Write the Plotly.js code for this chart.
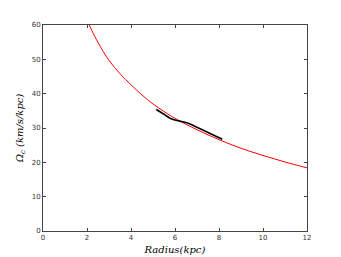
<!DOCTYPE html>
<html><head><meta charset="utf-8">
<script src="https://cdn.plot.ly/plotly-3.0.1.min.js"></script>
<style>html,body{margin:0;padding:0;background:#fff}#c{width:341px;height:257px}</style>
</head><body><div id="c"></div>
<script>
var modelR = [2.1, 2.5, 3, 3.5, 4, 4.5, 5, 5.5, 6, 7, 8, 9, 10, 11, 12];
var modelOmega = [60, 54.9, 49.7, 45.8, 42.6, 39.6, 37.0, 34.8, 32.8, 29.5, 26.6, 24.1, 22.0, 20.1, 18.4];
var obsR = [5.15, 5.5, 5.85, 6.2, 6.6, 7.0, 7.5, 8.15];
var obsOmega = [35.4, 34.0, 32.6, 32.0, 31.4, 30.2, 28.7, 26.7];
var xTicks = [0, 2, 4, 6, 8, 10, 12];
var yTicks = [0, 10, 20, 30, 40, 50, 60];

var traces = [
  {x: modelR, y: modelOmega, mode: 'lines', line: {color: '#ff0000', width: 1, shape: 'spline'}, hoverinfo: 'skip'},
  {x: obsR, y: obsOmega, mode: 'lines', line: {color: '#000000', width: 1.6, shape: 'spline'}, hoverinfo: 'skip'}
];
var axisCommon = {
  showline: true, mirror: 'ticks', linecolor: '#444', linewidth: 1,
  ticks: 'inside', ticklen: 3, tickcolor: '#444', showgrid: false, zeroline: false,
  tickfont: {family: 'DejaVu Sans', size: 7, color: '#333'}
};
var layout = {
  width: 341, height: 257,
  margin: {l: 43, r: 34, t: 25, b: 26},
  showlegend: false,
  paper_bgcolor: '#fff', plot_bgcolor: '#fff',
  xaxis: Object.assign({}, axisCommon, {
    range: [0, 12], tickvals: xTicks, ticktext: xTicks.map(String),
    title: {text: '<i>Radius(kpc)</i>', font: {family: 'DejaVu Serif', size: 10, color: '#000'}, standoff: 4}
  }),
  yaxis: Object.assign({}, axisCommon, {
    range: [0, 60], tickvals: yTicks, ticktext: yTicks.map(String),
    title: {text: '<i>Ω<sub>c</sub> (km/s/kpc)</i>', font: {family: 'DejaVu Serif', size: 10, color: '#000'}, standoff: 6}
  })
};
Plotly.newPlot('c', traces, layout, {staticPlot: true, displayModeBar: false});
</script>
</body></html>
